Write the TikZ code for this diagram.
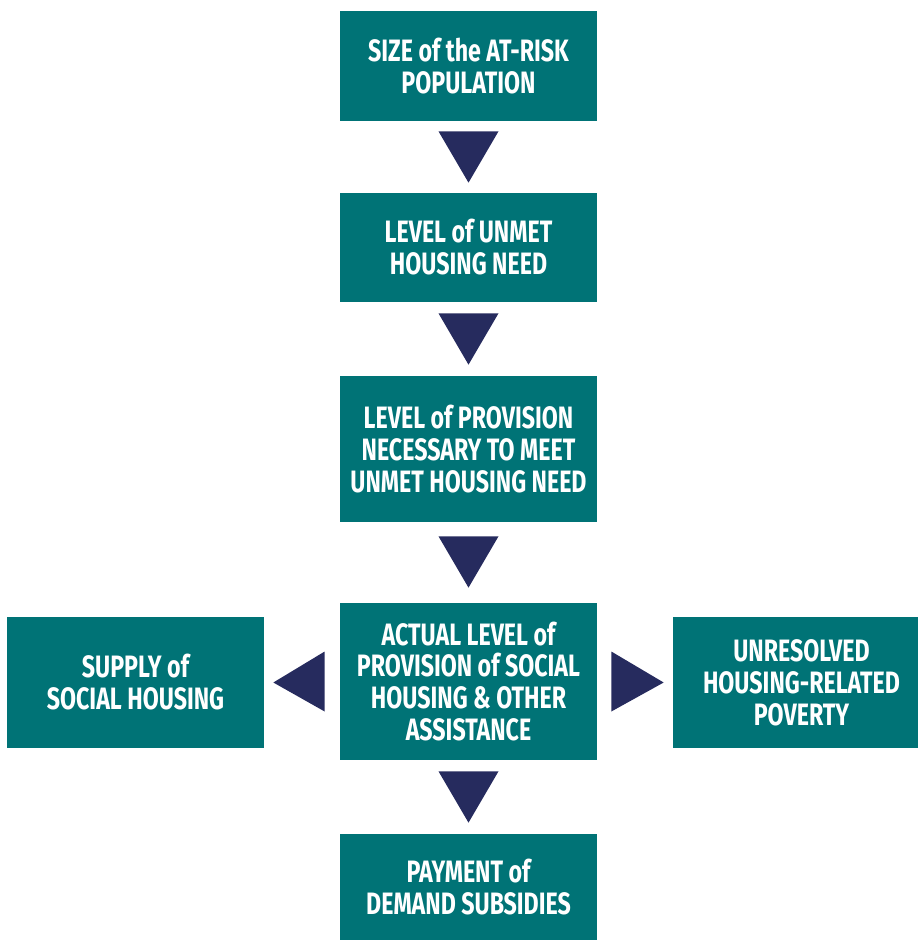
\documentclass[tikz,border=0pt]{standalone}
\usepackage{fontspec}
\setmainfont{Fira Sans}[FakeStretch=0.75]
\usepackage{tikz}
\usetikzlibrary{positioning,calc}
\definecolor{boxcol}{RGB}{0,115,118}
\definecolor{tricol}{RGB}{38,43,94}

\begin{document}
\begin{tikzpicture}[
  x=0.02cm, y=-0.02cm,
  tbox/.style={rectangle,fill=boxcol,text=white,align=center,
               font=\fontsize{17.6}{18.2}\selectfont\bfseries,
               minimum width=5.14cm,inner sep=0pt},
  tri/.style={fill=tricol}
]
\useasboundingbox (0,0) rectangle (917,940);
% main column
\node[tbox,minimum height=2.20cm] (size) at (468.5,66)
  {SIZE of the AT-RISK\\POPULATION};
\node[tbox,minimum height=2.18cm] (unmet) at (468.5,247.5)
  {LEVEL of UNMET\\HOUSING NEED};
\node[tbox,minimum height=2.92cm] (nec) at (468.5,449)
  {LEVEL of PROVISION\\NECESSARY TO MEET\\UNMET HOUSING NEED};
\node[tbox,minimum height=3.14cm] (act) at (468.5,681.5)
  {ACTUAL LEVEL of\\PROVISION of SOCIAL\\HOUSING \& OTHER\\ASSISTANCE};
\node[tbox,minimum height=2.12cm] (pay) at (468.5,887)
  {PAYMENT of\\DEMAND SUBSIDIES};
% side boxes (the right one runs off the page edge)
\node[tbox,minimum height=2.62cm] (sup) at (135.5,682.5)
  {SUPPLY of\\SOCIAL HOUSING};
\node[tbox,minimum height=2.62cm] (pov) at (801.5,682.5)
  {UNRESOLVED\\HOUSING-RELATED\\POVERTY};
% triangle arrows
\fill[tri] ($(size.south)+(-30,10)$) -- ($(size.south)+(30,10)$)
  -- ($(unmet.north)+(0,-10)$) -- cycle;
\fill[tri] ($(unmet.south)+(-30,11)$) -- ($(unmet.south)+(30,11)$)
  -- ($(nec.north)+(0,-11)$) -- cycle;
\fill[tri] ($(nec.south)+(-30,14)$) -- ($(nec.south)+(30,14)$)
  -- ($(act.north)+(0,-15)$) -- cycle;
\fill[tri] ($(act.south)+(-30,11)$) -- ($(act.south)+(30,11)$)
  -- ($(pay.north)+(0,-11)$) -- cycle;
\fill[tri] ($(act.west)+(-15,-30)$) -- ($(act.west)+(-15,30)$)
  -- ($(sup.east)+(9,0)$) -- cycle;
\fill[tri] ($(act.east)+(14,-30)$) -- ($(act.east)+(14,30)$)
  -- ($(pov.west)+(-9,0)$) -- cycle;
\end{tikzpicture}
\end{document}
